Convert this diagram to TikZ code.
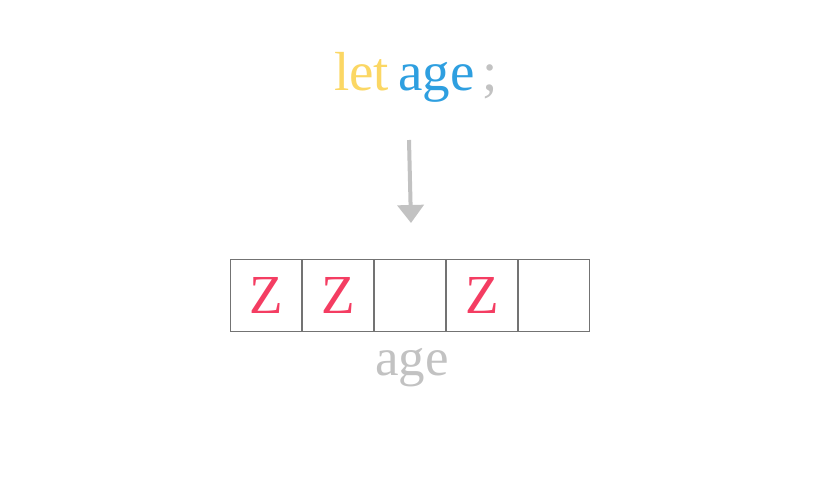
\documentclass[tikz,border=0pt]{standalone}
\usepackage{fontspec}
\setmainfont{Liberation Serif}
\usetikzlibrary{arrows.meta}

\definecolor{kwyellow}{HTML}{FBD764}
\definecolor{varblue}{HTML}{2E9FE0}
\definecolor{zred}{HTML}{F43D62}
\definecolor{softgray}{HTML}{C2C2C2}
\definecolor{edgegray}{HTML}{737373}

\begin{document}
\begin{tikzpicture}[x=1pt,y=-1pt]
        \useasboundingbox (0,0) rectangle (823,490);

        \node[anchor=base,font=\fontsize{55}{60}\selectfont] (decl) at (416,90)
            {\textcolor{kwyellow}{let}\hspace{9pt}\textcolor{varblue}{age}\hspace{8pt}\textcolor{softgray}{;}};

        \begin{scope}[every node/.style={rectangle,draw=edgegray,line width=0.9pt,
            minimum size=71.8pt,inner sep=0pt,text=zred,font=\fontsize{55}{60}\selectfont}]
            \node (c1) at (266,295.5) {Z};
            \node (c2) at (338,295.5) {Z};
            \node (c3) at (410,295.5) {};
            \node (c4) at (482,295.5) {Z};
            \node (c5) at (554,295.5) {};
        \end{scope}

        \node[anchor=base,text=softgray,font=\fontsize{53}{60}\selectfont] (name) at (412,375) {age};

        \coordinate (from) at (409,140);
        \coordinate (to) at (411,223);

        \begin{scope}[>={Triangle[length=18pt,width=26pt]}]
            \path [->] (from) edge [draw=softgray,line width=4pt] (to);
        \end{scope}
    \end{tikzpicture}
\end{document}
